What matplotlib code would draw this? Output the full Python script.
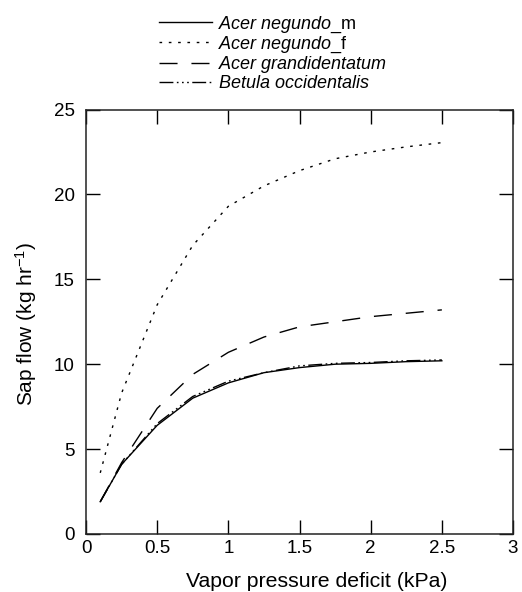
import matplotlib
matplotlib.use("Agg")
import matplotlib.pyplot as plt

plt.rcParams["font.family"] = ["Liberation Sans", "DejaVu Sans"]
plt.rcParams["mathtext.fontset"] = "custom"
plt.rcParams["mathtext.rm"] = "Liberation Sans"
plt.rcParams["mathtext.it"] = "Liberation Sans:italic"

# Vapor pressure deficit (kPa)
vpd = [0.1, 0.25, 0.5, 0.75, 1.0, 1.25, 1.5, 1.75, 2.0, 2.25, 2.5]

# Modelled sap flow (kg hr-1) per species
acer_negundo_m = [1.9, 4.1, 6.4, 8.0, 8.9, 9.5, 9.8, 10.0, 10.05, 10.15, 10.2]
acer_negundo_f = [3.6, 8.3, 13.5, 17.0, 19.3, 20.5, 21.4, 22.1, 22.5, 22.8, 23.05]
acer_grandidentatum = [1.9, 4.2, 7.4, 9.4, 10.7, 11.6, 12.2, 12.5, 12.8, 13.0, 13.2]
betula_occidentalis = [1.9, 4.1, 6.5, 8.1, 9.0, 9.5, 9.9, 10.05, 10.1, 10.2, 10.25]

labels = [r"$\it{Acer\ negundo}$_m", r"$\it{Acer\ negundo}$_f",
          r"$\it{Acer\ grandidentatum}$", r"$\it{Betula\ occidentalis}$"]

fig = plt.figure(figsize=(5.22, 5.92), dpi=100)
ax = fig.add_axes([0.1648, 0.098, 0.818, 0.717])

ax.plot(vpd, acer_negundo_m, color="black", lw=1.0, ls="-", label=labels[0])
ax.plot(vpd, acer_negundo_f, color="black", lw=1.0, ls=(0, (1.9, 4.8)), label=labels[1])
ax.plot(vpd, acer_grandidentatum, color="black", lw=1.0, ls=(0, (13, 10)), label=labels[2])
ax.plot(vpd, betula_occidentalis, color="black", lw=1.0,
        ls=(0, (10, 2.5, 1.2, 2.5, 1.2, 2.5, 1.2, 2.5)), label=labels[3])

ax.set_xlim(0, 3)
ax.set_ylim(0, 25)
ax.set_xticks([0, 0.5, 1, 1.5, 2, 2.5, 3])
ax.set_xticklabels(["0", "0.5", "1", "1.5", "2", "2.5", "3"])
ax.set_yticks([0, 5, 10, 15, 20, 25])
ax.tick_params(direction="in", length=10, width=1, top=True, right=True,
               labelsize=13.5, colors="black")
ax.tick_params(axis="x", pad=4.5)
ax.tick_params(axis="y", pad=8)
for s in ax.spines.values():
    s.set_linewidth(1.1)
    s.set_color("#222222")

ax.set_xlabel("Vapor pressure deficit (kPa)", fontsize=15.3)
ax.xaxis.set_label_coords(0.54, -0.089)
ax.set_ylabel(r"Sap flow (kg hr$^{-1}$)", fontsize=15)
ax.yaxis.set_label_coords(-0.11, 0.494)

ax.legend(loc="lower left", bbox_to_anchor=(0.171, 1.041), frameon=False,
          fontsize=13, handlelength=2.94, handletextpad=0.32, labelspacing=-0.02,
          borderpad=0, borderaxespad=0)

fig.savefig("out.png", dpi=100)
